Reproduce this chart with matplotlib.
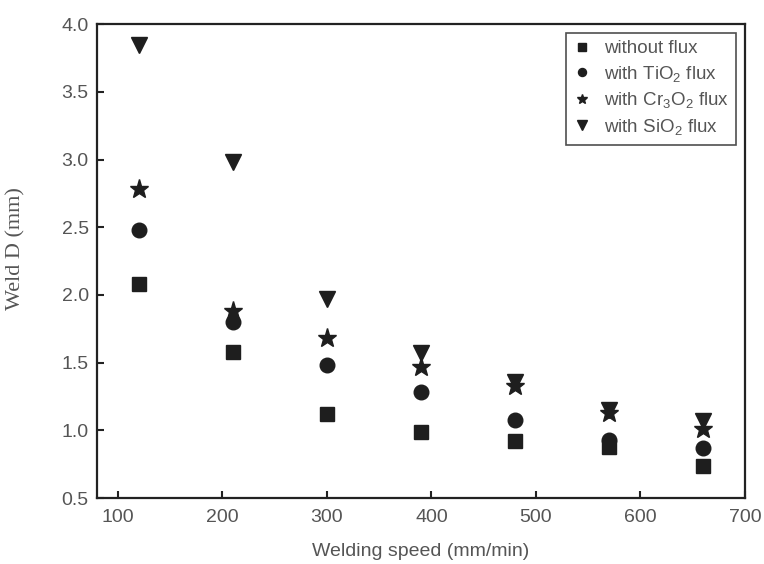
import matplotlib
matplotlib.use("Agg")
import matplotlib.pyplot as plt

speed = [120, 210, 300, 390, 480, 570, 660]
without_flux = [2.08, 1.58, 1.12, 0.99, 0.92, 0.88, 0.74]
tio2_flux = [2.48, 1.80, 1.48, 1.28, 1.08, 0.93, 0.87]
cr3o2_flux = [2.78, 1.88, 1.68, 1.47, 1.33, 1.13, 1.01]
sio2_flux = [3.85, 2.98, 1.97, 1.57, 1.36, 1.15, 1.07]

labels = ["without flux", "with TiO$_2$ flux", "with Cr$_3$O$_2$ flux", "with SiO$_2$ flux"]
xticks = [100, 200, 300, 400, 500, 600, 700]
yticks = [0.5, 1.0, 1.5, 2.0, 2.5, 3.0, 3.5, 4.0]

plt.rcParams['font.family'] = ['Liberation Sans', 'DejaVu Sans']
plt.rcParams['mathtext.fontset'] = 'custom'
plt.rcParams['mathtext.rm'] = 'Liberation Sans'
plt.rcParams['mathtext.it'] = 'Liberation Sans'

fig = plt.figure(figsize=(7.64, 5.64), dpi=100)
ax = fig.add_axes([0.127, 0.117, 0.848, 0.84])

c = '#1e1e1e'
ax.plot(speed, without_flux, 's', color=c, markersize=9.5, label=labels[0], linestyle='none')
ax.plot(speed, tio2_flux, 'o', color=c, markersize=10.5, label=labels[1], linestyle='none')
ax.plot(speed, cr3o2_flux, '*', color=c, markersize=14, label=labels[2], linestyle='none')
ax.plot(speed, sio2_flux, 'v', color=c, markersize=12, label=labels[3], linestyle='none')

ax.set_xlim(80, 700)
ax.set_ylim(0.5, 4.0)
ax.set_xticks(xticks)
ax.set_yticks(yticks)
ax.set_yticklabels([f"{v:.1f}" for v in yticks])
ax.tick_params(direction='in', length=5, width=1.5, labelsize=14, colors='#222', labelcolor='#555')
ax.tick_params(axis='x', pad=8)
ax.tick_params(axis='y', pad=6)
for s in ax.spines.values():
    s.set_linewidth(1.6)
    s.set_color('#222')

ax.set_xlabel("Welding speed (mm/min)", fontsize=14, color='#555', labelpad=12)
ax.set_ylabel("Weld D (mm)", fontsize=16, color='#555', family='Liberation Serif')
ax.yaxis.set_label_coords(-0.111, 0.527)

leg = ax.legend(loc='upper right', fontsize=13.5, frameon=True, fancybox=False,
                edgecolor='#222', markerscale=0.55, handlelength=0.9, handletextpad=0.7,
                borderpad=0.4, labelspacing=0.35, borderaxespad=0.45)
leg.get_frame().set_linewidth(1.2)
for t in leg.get_texts():
    t.set_color('#555')

fig.savefig("out.png", dpi=100)
